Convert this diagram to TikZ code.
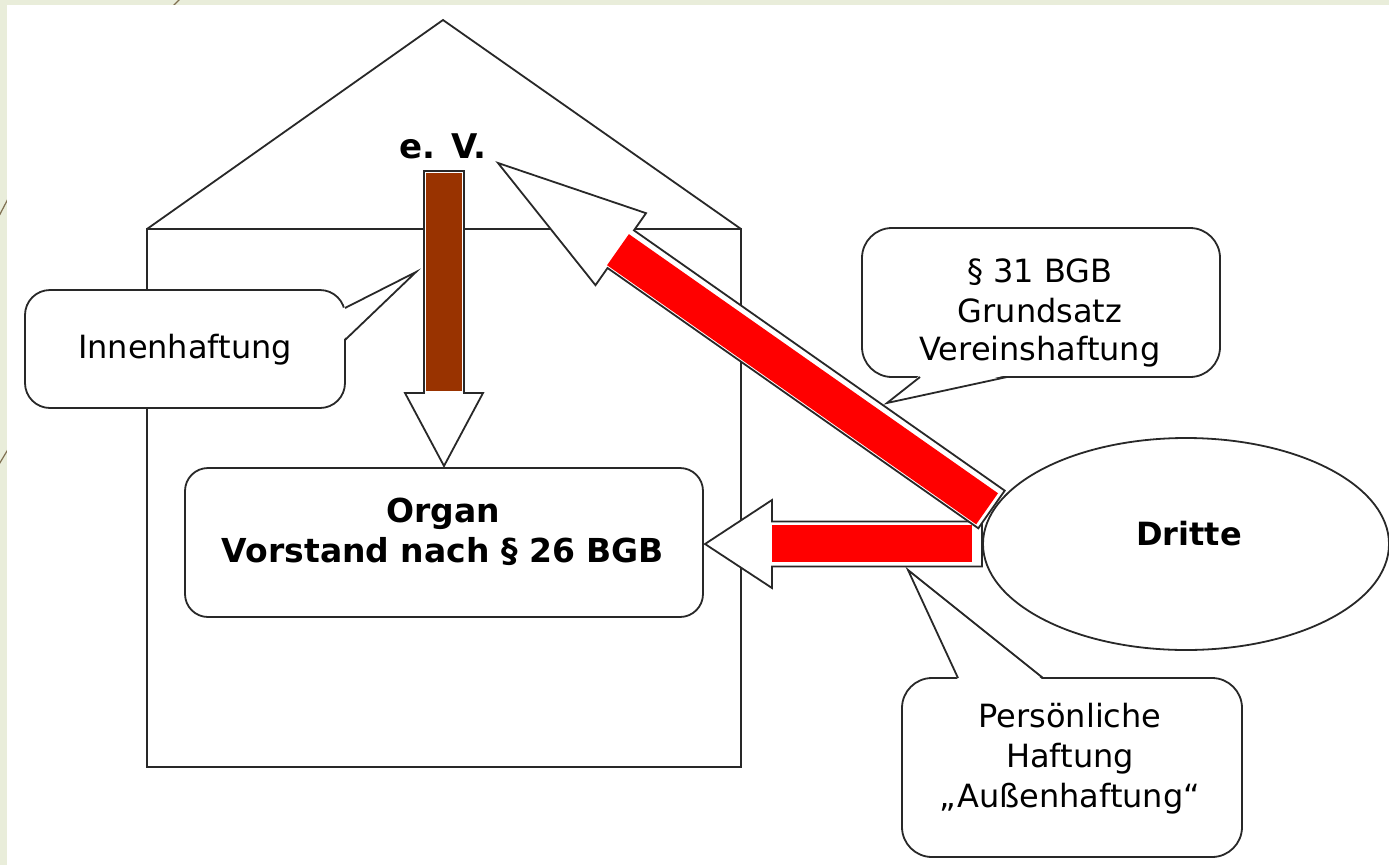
\documentclass[tikz,border=0pt]{standalone}
\usepackage{fontspec}
\setmainfont{DejaVu Sans}
\usetikzlibrary{shapes.geometric}
\definecolor{slidebg}{RGB}{233,237,218}
\definecolor{slideline}{RGB}{128,112,82}
\definecolor{haftrot}{RGB}{255,0,0}
\definecolor{haftbraun}{RGB}{153,51,0}
\definecolor{strich}{RGB}{40,40,40}
\tikzset{
  outline/.style={draw=strich, line width=1.8pt, line join=miter},
  calloutbox/.style={draw=strich, line width=1.8pt, fill=white},
  pointerline/.style={draw=strich, line width=1.8pt, line join=miter},
  plain/.style={font=\fontsize{32}{40}\selectfont, anchor=base, inner sep=0pt},
  heavy/.style={font=\bfseries\fontsize{32}{40}\selectfont, anchor=base, inner sep=0pt},
}
\begin{document}
\begin{tikzpicture}[x=1pt, y=-1pt]
\useasboundingbox (0,0) rectangle (1389,865);
\clip (0,0) rectangle (1389,865);

% slide background with its thin decorative strokes
\fill[slidebg] (0,0) rectangle (1389,865);
\draw[slideline, line width=1.2pt] (171,8) -- (183,-4);
\draw[slideline, line width=1.2pt] (-2,218) -- (10,195);
\draw[slideline, line width=1.2pt] (-2,466) -- (10,446);
\fill[white] (7,5) rectangle (1389,865);

% the house of the association
\draw[outline] (147,229) rectangle (741,767);
\draw[outline] (147,229) -- (443,20) -- (741,229);

% board box
\node[draw=strich, line width=1.8pt, fill=white, rounded corners=23pt,
      minimum width=518pt, minimum height=149pt, inner sep=0pt] (organ) at (444,542.5) {};

% third party
\node[ellipse, draw=strich, line width=1.8pt, fill=white,
      minimum width=406pt, minimum height=212pt, inner sep=0pt] (dritte) at (1186,544) {};

% internal liability arrow: e. V. -> board
\coordinate (innenTip) at (444,466);
\begin{scope}[shift={(innenTip)}, rotate=90]
  \draw[outline, fill=white] (0,0) -- (73,-39) -- (73,-20) -- (295,-20) -- (295,20) -- (73,20) -- (73,39) -- cycle;
  \fill[haftbraun] (75,-18) rectangle (293,18);
\end{scope}

% external liability arrow: third party -> board
\coordinate (aussenTip) at (705,544);
\begin{scope}[shift={(aussenTip)}]
  \draw[outline, fill=white] (0,0) -- (67,-44) -- (67,-22.5) -- (277,-22.5) -- (277,22.5) -- (67,22.5) -- (67,44) -- cycle;
  \fill[haftrot] (67,-19) rectangle (267,18);
\end{scope}

% association liability arrow: third party -> e. V.
\coordinate (vereinTip) at (498,163);
\begin{scope}[shift={(vereinTip)}, rotate=-35.07]
  \draw[outline, fill=white] (0,0) -- (150,-44) -- (150,-23) -- (603,-23) -- (603,23) -- (150,23) -- (150,44) -- cycle;
  \fill[haftrot] (148,-17) rectangle (599,21);
\end{scope}

% callout: Innenhaftung
\draw[calloutbox, rounded corners=25pt] (25,290) rectangle (345,408);
\fill[white] (343,308) -- (416,272) -- (343,340) -- cycle;
\draw[pointerline] (345,308) -- (416,272) -- (345,340);

% callout: § 31 BGB
\draw[calloutbox, rounded corners=30pt] (862,228) rectangle (1220,377);
\fill[white] (920,375) -- (887,403) -- (1007,375) -- cycle;
\draw[pointerline] (920,377) -- (887,403) -- (1007,377);

% callout: personal liability
\draw[calloutbox, rounded corners=30pt] (902,678) rectangle (1242,857);
\fill[white] (958,680) -- (908,570) -- (1043,680) -- cycle;
\draw[pointerline] (958,678) -- (908,570) -- (1043,678);

% labels
\node[heavy, font=\bfseries\fontsize{34}{40}\selectfont] (evText) at (443,158) {e. V.};
\node[heavy, font=\bfseries\fontsize{33}{40}\selectfont] (organText1) at (443,522) {Organ};
\node[heavy, font=\bfseries\fontsize{33}{40}\selectfont] (organText2) at (443,562) {Vorstand nach § 26 BGB};
\node[heavy] (dritteText) at (1189,545) {Dritte};

\node[plain] (innenText) at (185,358) {Innenhaftung};

\node[plain] (bgbText1) at (1040,282) {§ 31 BGB};
\node[plain] (bgbText2) at (1040,322) {Grundsatz};
\node[plain] (bgbText3) at (1040,360) {Vereinshaftung};

\node[plain] (aussenText1) at (1070,727) {Persönliche};
\node[plain] (aussenText2) at (1070,767) {Haftung};
\node[plain] (aussenText3) at (1070,807) {„Außenhaftung“};
\end{tikzpicture}
\end{document}
